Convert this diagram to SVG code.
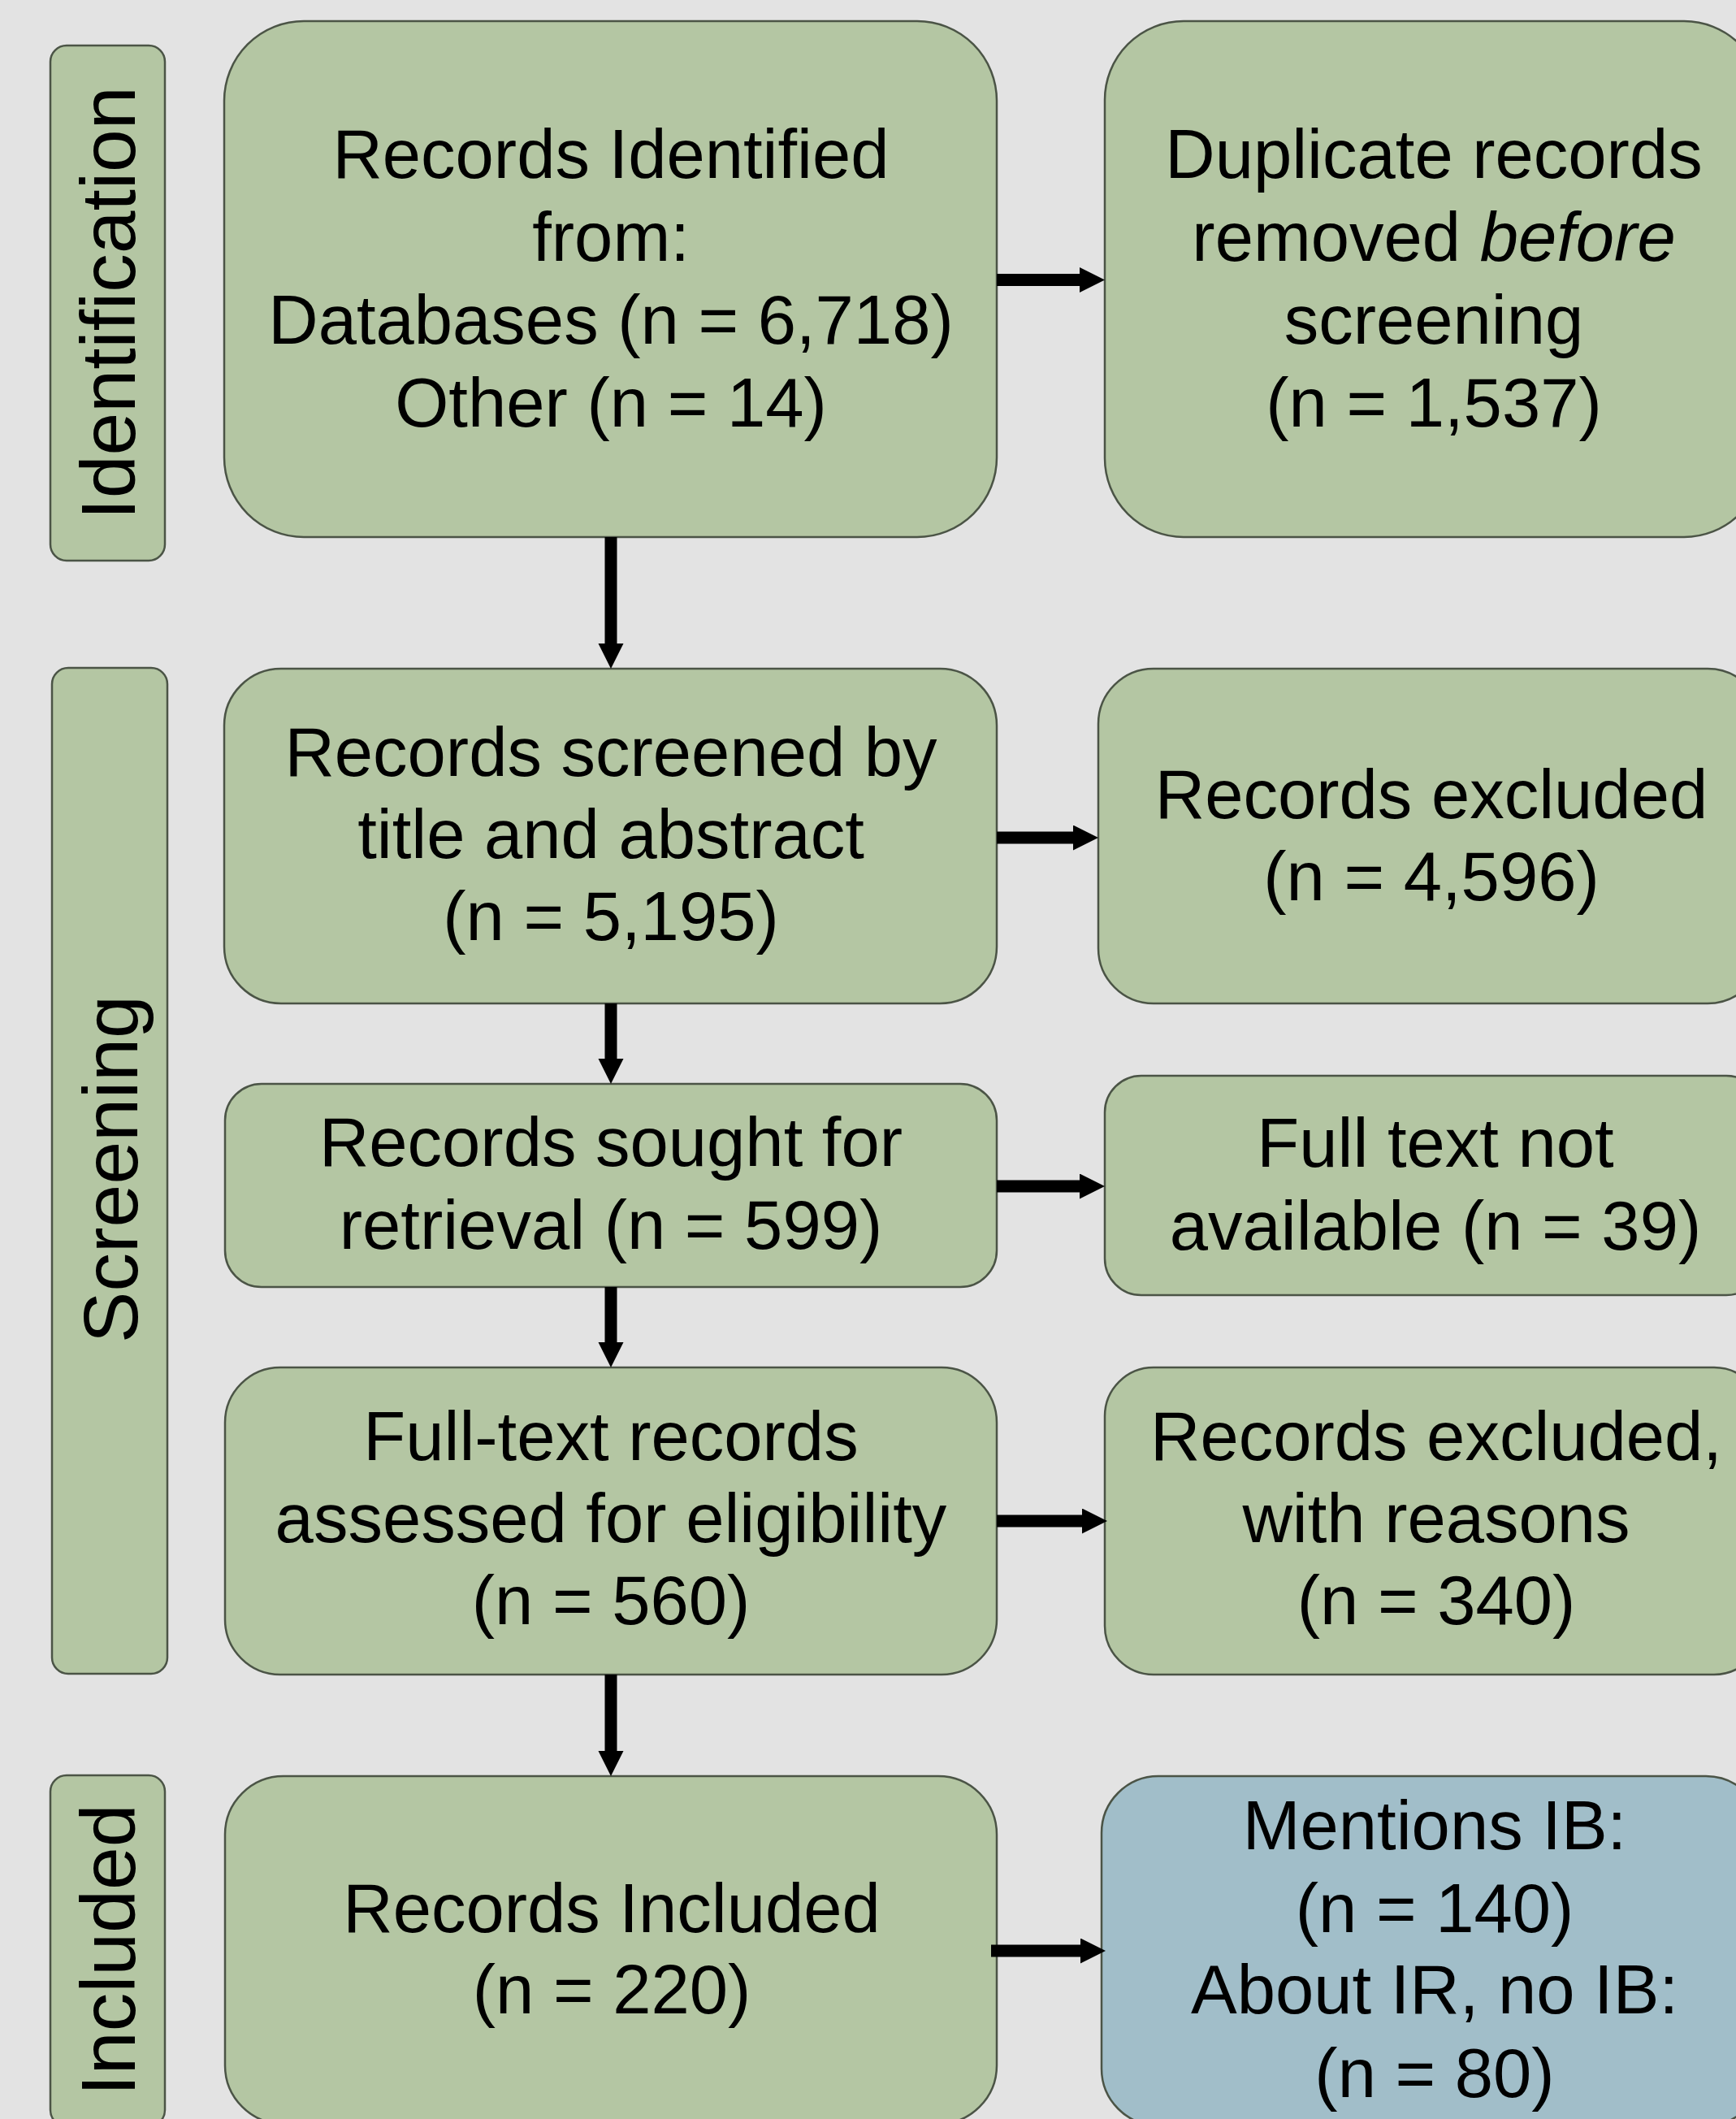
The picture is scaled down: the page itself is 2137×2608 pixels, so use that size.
<svg xmlns="http://www.w3.org/2000/svg" width="2137" height="2608" viewBox="0 0 2137 2608">
<style>
.bg{fill:#e3e3e3}
.box{fill:#b4c6a3;stroke:#4b5446;stroke-width:2.5}
.blue{fill:#a1bec9;stroke:#4b5446;stroke-width:2.5}
.t{font-family:"Liberation Sans",Arial,Helvetica,sans-serif;font-size:85px;fill:#000;text-anchor:middle}
.lab{font-family:"Liberation Sans",Arial,Helvetica,sans-serif;font-size:95px;fill:#000;text-anchor:middle}
.c{stroke:#000;stroke-width:15;fill:none}
</style>
<defs>
<marker id="ah" markerUnits="userSpaceOnUse" markerWidth="32" markerHeight="32" refX="2" refY="15.5" orient="auto" viewBox="0 0 32 32">
<path d="M0,0 L31,15.5 L0,31 z" fill="#000"/>
</marker>
</defs>
<rect class="bg" x="0" y="0" width="2137" height="2608"/>

<g id="label-identification">
<rect class="box" x="62" y="56" width="141" height="634" rx="20"/>
<text class="lab" transform="translate(166,373) rotate(-90)">Identification</text>
</g>
<g id="label-screening">
<rect class="box" x="64" y="822" width="142" height="1238" rx="20"/>
<text class="lab" transform="translate(169,1439) rotate(-90)">Screening</text>
</g>
<g id="label-included">
<rect class="box" x="62" y="2185" width="141" height="432" rx="20"/>
<text class="lab" transform="translate(166,2400) rotate(-90)">Included</text>
</g>

<g id="n1">
<rect class="box" x="276" y="26" width="951" height="635" rx="98"/>
<text class="t" x="752" y="219">Records Identified</text>
<text class="t" x="752" y="321">from:</text>
<text class="t" x="752" y="423">Databases (n = 6,718)</text>
<text class="t" x="752" y="525">Other (n = 14)</text>
</g>
<g id="n2">
<rect class="box" x="1360" y="26" width="810" height="635" rx="97"/>
<text class="t" x="1765" y="219">Duplicate records</text>
<text class="t" x="1765" y="321">removed <tspan font-style="italic">before</tspan></text>
<text class="t" x="1765" y="423">screening</text>
<text class="t" x="1765" y="525">(n = 1,537)</text>
</g>
<g id="n3">
<rect class="box" x="276" y="823" width="951" height="412" rx="70"/>
<text class="t" x="752" y="955">Records screened by</text>
<text class="t" x="752" y="1056">title and abstract</text>
<text class="t" x="752" y="1157">(n = 5,195)</text>
</g>
<g id="n4">
<rect class="box" x="1352" y="823" width="818" height="412" rx="68"/>
<text class="t" x="1762" y="1007">Records excluded</text>
<text class="t" x="1762" y="1108">(n = 4,596)</text>
</g>
<g id="n5">
<rect class="box" x="277" y="1334" width="950" height="250" rx="45"/>
<text class="t" x="752" y="1435">Records sought for</text>
<text class="t" x="752" y="1537">retrieval (n = 599)</text>
</g>
<g id="n6">
<rect class="box" x="1360" y="1324" width="810" height="270" rx="45"/>
<text class="t" x="1767" y="1436">Full text not</text>
<text class="t" x="1767" y="1538">available (n = 39)</text>
</g>
<g id="n7">
<rect class="box" x="277" y="1683" width="950" height="378" rx="68"/>
<text class="t" x="752" y="1797">Full-text records</text>
<text class="t" x="752" y="1898">assessed for eligibility</text>
<text class="t" x="752" y="1999">(n = 560)</text>
</g>
<g id="n8">
<rect class="box" x="1360" y="1683" width="810" height="378" rx="60"/>
<text class="t" x="1768" y="1797">Records excluded,</text>
<text class="t" x="1768" y="1898">with reasons</text>
<text class="t" x="1768" y="1999">(n = 340)</text>
</g>
<g id="n9">
<rect class="box" x="277" y="2186" width="950" height="428" rx="72"/>
<text class="t" x="753" y="2378">Records Included</text>
<text class="t" x="753" y="2478">(n = 220)</text>
</g>
<g id="n10">
<rect class="blue" x="1356" y="2186" width="814" height="430" rx="70"/>
<text class="t" x="1766" y="2276">Mentions IB:</text>
<text class="t" x="1766" y="2378">(n = 140)</text>
<text class="t" x="1766" y="2478">About IR, no IB:</text>
<text class="t" x="1766" y="2581">(n = 80)</text>
</g>

<g id="connectors">
<line class="c" x1="1227" y1="344.5" x2="1331" y2="344.5" marker-end="url(#ah)"/>
<line class="c" x1="752" y1="661" x2="752" y2="794" marker-end="url(#ah)"/>
<line class="c" x1="1227" y1="1031" x2="1323" y2="1031" marker-end="url(#ah)"/>
<line class="c" x1="752" y1="1235" x2="752" y2="1305" marker-end="url(#ah)"/>
<line class="c" x1="1227" y1="1460" x2="1331" y2="1460" marker-end="url(#ah)"/>
<line class="c" x1="752" y1="1584" x2="752" y2="1654" marker-end="url(#ah)"/>
<line class="c" x1="1227" y1="1872" x2="1334" y2="1872" marker-end="url(#ah)"/>
<line class="c" x1="752" y1="2061" x2="752" y2="2157" marker-end="url(#ah)"/>
<line class="c" x1="1220" y1="2401" x2="1332" y2="2401" marker-end="url(#ah)"/>
</g>
</svg>
